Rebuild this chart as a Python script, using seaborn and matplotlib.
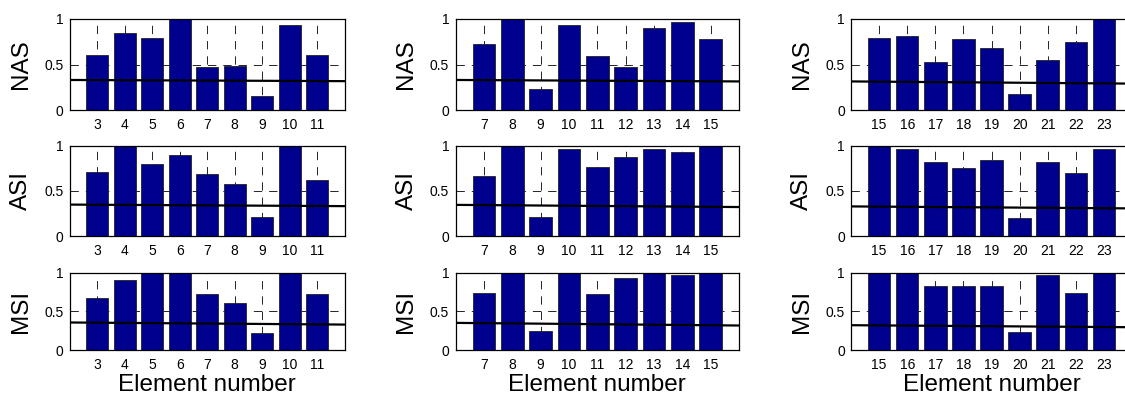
import matplotlib
matplotlib.use("Agg")
import matplotlib.pyplot as plt
import seaborn as sns

# Element numbers for the three groups
elements_a = [3, 4, 5, 6, 7, 8, 9, 10, 11]
elements_b = [7, 8, 9, 10, 11, 12, 13, 14, 15]
elements_c = [15, 16, 17, 18, 19, 20, 21, 22, 23]

# Damage indices per group
nas_a = [0.60, 0.85, 0.79, 1.00, 0.47, 0.48, 0.15, 0.93, 0.60]
asi_a = [0.71, 1.00, 0.80, 0.90, 0.68, 0.58, 0.21, 1.00, 0.62]
msi_a = [0.665, 0.90, 1.00, 1.00, 0.72, 0.61, 0.22, 1.00, 0.72]

nas_b = [0.73, 1.00, 0.23, 0.93, 0.59, 0.47, 0.90, 0.97, 0.775]
asi_b = [0.66, 1.00, 0.205, 0.956, 0.76, 0.87, 0.956, 0.93, 1.00]
msi_b = [0.73, 1.00, 0.24, 1.00, 0.72, 0.93, 1.00, 0.965, 1.00]

nas_c = [0.79, 0.81, 0.524, 0.78, 0.686, 0.177, 0.55, 0.745, 1.00]
asi_c = [1.00, 0.956, 0.82, 0.75, 0.836, 0.196, 0.82, 0.70, 0.964]
msi_c = [1.00, 1.00, 0.83, 0.83, 0.83, 0.23, 0.965, 0.74, 1.00]

# Threshold line (value at left end, value at right end)
thr_nas_a = [0.330, 0.317]
thr_asi_a = [0.347, 0.330]
thr_msi_a = [0.355, 0.328]
thr_nas_b = [0.330, 0.314]
thr_asi_b = [0.344, 0.320]
thr_msi_b = [0.350, 0.316]
thr_nas_c = [0.314, 0.290]
thr_asi_c = [0.327, 0.305]
thr_msi_c = [0.320, 0.294]

index_names = ["NAS", "ASI", "MSI"]
y_ticks = [0, 0.5, 1]
y_tick_labels = ["0", "0.5", "1"]
x_label = "Element number"

groups = [
    (elements_a, [nas_a, asi_a, msi_a], [thr_nas_a, thr_asi_a, thr_msi_a]),
    (elements_b, [nas_b, asi_b, msi_b], [thr_nas_b, thr_asi_b, thr_msi_b]),
    (elements_c, [nas_c, asi_c, msi_c], [thr_nas_c, thr_asi_c, thr_msi_c]),
]

sns.set_style("white")
plt.rcParams["font.family"] = ["Liberation Sans", "DejaVu Sans"]
plt.rcParams["lines.scale_dashes"] = False

BAR_COLOR = "#00008F"
W, H = 1125, 405
LABEL_SIZE = 17.5

fig = plt.figure(figsize=(W / 100, H / 100), dpi=100)

col_lefts = [70, 455.5, 851]
col_widths = [274.5, 283.5, 281]
row_tops = [19, 145.5, 272.5]
row_heights = [91, 90.5, 77.5]

for c, (elements, series, thresholds) in enumerate(groups):
    for r in range(3):
        left, width = col_lefts[c], col_widths[c]
        top, height = row_tops[r], row_heights[r]
        ax = fig.add_axes([left / W, (H - top - height) / H, width / W, height / H])
        xlo, xhi = elements[0] - 1, elements[-1] + 1

        sns.barplot(x=elements, y=series[r], native_scale=True, width=0.8,
                    color=BAR_COLOR, saturation=1, edgecolor="#222222",
                    linewidth=0.6, errorbar=None, ax=ax, zorder=2)
        sns.lineplot(x=[xlo, xhi], y=thresholds[r], color="black",
                     linewidth=1.6, ax=ax, zorder=3)

        ax.set_xlim(xlo, xhi)
        ax.set_ylim(0, 1)
        ax.set_xticks(elements)
        ax.set_xticklabels([str(e) for e in elements])
        ax.set_yticks(y_ticks)
        ax.set_yticklabels(y_tick_labels)

        ax.set_axisbelow(True)
        ax.grid(True, color="black", linestyle=(0, (6, 5)), linewidth=0.6)

        for side in ax.spines.values():
            side.set_color("black")
            side.set_linewidth(0.9)
            side.set_visible(True)

        ax.tick_params(axis="both", direction="in", length=3, width=0.7,
                       color="black", labelsize=10, labelcolor="black")
        ax.tick_params(axis="x", pad=5.5)
        ax.tick_params(axis="y", pad=4.5)

        ax.set_ylabel(index_names[r], fontsize=LABEL_SIZE, color="black")
        ax.yaxis.set_label_coords(-38 / width, 0.5)
        if r == 2:
            ax.set_xlabel(x_label, fontsize=LABEL_SIZE, color="black")
            ax.xaxis.set_label_coords(0.5, -24 / height)
        else:
            ax.set_xlabel("")

fig.savefig("out.png", dpi=100, facecolor="white")
